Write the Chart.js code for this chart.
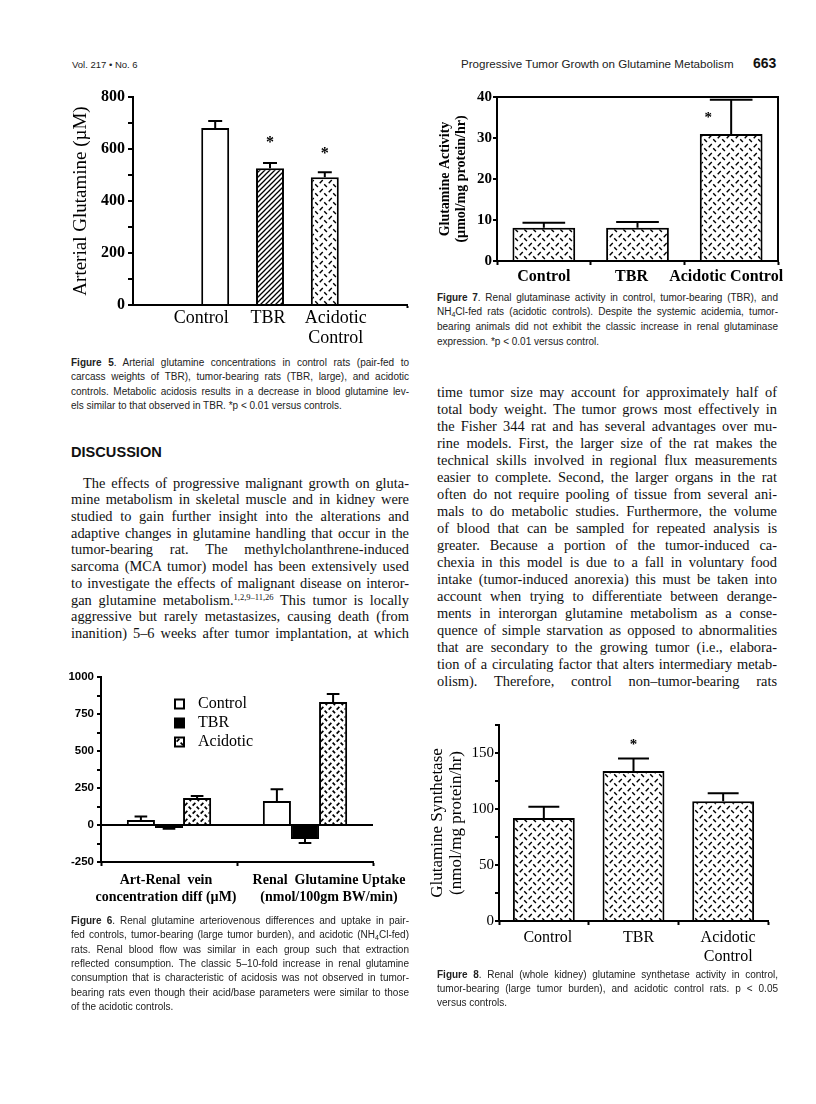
<!DOCTYPE html>
<html>
<head>
<meta charset="utf-8">
<script src="https://cdn.jsdelivr.net/npm/chart.js@4.4.0/dist/chart.umd.min.js"></script>
<style>
  html, body { margin:0; padding:0; background:#fff; }
  body { width:816px; height:1104px; position:relative; overflow:hidden; color:#111; }
  canvas { position:absolute; }
  .ln { position:absolute; white-space:nowrap; text-align:justify; overflow:visible; }
  .cap { font-family:"Liberation Sans", Arial, sans-serif; font-size:10px; color:#222; }
  .body { font-family:"Liberation Serif", "Times New Roman", serif; font-size:14.4px; color:#111; }
  .hdr { position:absolute; white-space:nowrap; font-family:"Liberation Sans", Arial, sans-serif; color:#222; }
  sup { font-size:8.5px; line-height:0; vertical-align:5px; }
  sub { font-size:7px; line-height:0; vertical-align:-2px; }
</style>
</head>
<body>
<div class="hdr" style="left:72px;top:59px;font-size:9.5px;">Vol. 217 &bull; No. 6</div>
<div class="hdr" style="left:461px;top:57px;font-size:11.6px;">Progressive Tumor Growth on Glutamine Metabolism</div>
<div class="hdr" style="left:753px;top:55px;font-size:14px;font-weight:bold;color:#111;">663</div>
<div class="hdr" style="left:71px;top:444px;font-size:14.6px;font-weight:bold;color:#111;">DISCUSSION</div>

<canvas id="fig5" width="380" height="270" style="left:40px;top:80px;"></canvas>
<canvas id="fig7" width="380" height="205" style="left:420px;top:80px;"></canvas>
<canvas id="fig6" width="380" height="265" style="left:40px;top:650px;"></canvas>
<canvas id="fig8" width="380" height="255" style="left:420px;top:715px;"></canvas>

<script>
// ---------------- DATA ----------------
// Figure 5: Arterial glutamine (µM)
const fig5Categories = ['', 'Control', 'TBR', ['Acidotic', 'Control'], ''];
const fig5Values = [null, 681, 526, 491, null];
const fig5Errors = [null, 27, 20, 20, null];
const fig5Stars  = [null, null, 635, 592, null];
const fig5YTicks = [0, 200, 400, 600, 800];

// Figure 7: Glutaminase activity (µmol/mg protein/hr)
const fig7Categories = ['Control', 'TBR', 'Acidotic Control'];
const fig7Values = [8.1, 8.1, 31.0];
const fig7Errors = [1.2, 1.4, 8.3];
const fig7Stars  = [null, null, 35.6];
const fig7YTicks = [0, 10, 20, 30, 40];

// Figure 6: Renal glutamine A-V difference and uptake
const fig6Categories = [['Art-Renal  vein', 'concentration diff (\u00b5M)'], ['Renal  Glutamine Uptake', '(nmol/100gm BW/min)']];
const fig6SeriesNames = ['Control', 'TBR', 'Acidotic'];
const fig6Control  = [34, 162];
const fig6ControlErr = [23, 80];
const fig6TBR      = [-20, -95];
const fig6TBRErr   = [5, 27];
const fig6Acidotic = [183, 831];
const fig6AcidoticErr = [13, 54];
const fig6YTicks = [-250, 0, 250, 500, 750, 1000];

// Figure 8: Glutamine synthetase (nmol/mg protein/hr)
const fig8Categories = ['Control', 'TBR', ['Acidotic', 'Control']];
const fig8Values = [92, 134, 107];
const fig8Errors = [10, 11, 7];
const fig8Stars  = [null, 160, null];
const fig8YTicks = [0, 50, 100, 150];

// ---------------- TEXT ----------------
const fig5Caption = [
  '<b>Figure 5</b>. Arterial glutamine concentrations in control rats (pair-fed to',
  'carcass weights of TBR), tumor-bearing rats (TBR, large), and acidotic',
  'controls. Metabolic acidosis results in a decrease in blood glutamine lev-',
  'els similar to that observed in TBR. *p &lt; 0.01 versus controls.'
];
const fig7Caption = [
  '<b>Figure 7</b>. Renal glutaminase activity in control, tumor-bearing (TBR), and',
  'NH<sub>4</sub>Cl-fed rats (acidotic controls). Despite the systemic acidemia, tumor-',
  'bearing animals did not exhibit the classic increase in renal glutaminase',
  'expression. *p &lt; 0.01 versus control.'
];
const fig6Caption = [
  '<b>Figure 6</b>. Renal glutamine arteriovenous differences and uptake in pair-',
  'fed controls, tumor-bearing (large tumor burden), and acidotic (NH<sub>4</sub>Cl-fed)',
  'rats. Renal blood flow was similar in each group such that extraction',
  'reflected consumption. The classic 5\u201310-fold increase in renal glutamine',
  'consumption that is characteristic of acidosis was not observed in tumor-',
  'bearing rats even though their acid/base parameters were similar to those',
  'of the acidotic controls.'
];
const fig8Caption = [
  '<b>Figure 8</b>. Renal (whole kidney) glutamine synthetase activity in control,',
  'tumor-bearing (large tumor burden), and acidotic control rats. p &lt; 0.05',
  'versus controls.'
];
const leftBody = [
  'The effects of progressive malignant growth on gluta-',
  'mine metabolism in skeletal muscle and in kidney were',
  'studied to gain further insight into the alterations and',
  'adaptive changes in glutamine handling that occur in the',
  'tumor-bearing rat. The methylcholanthrene-induced',
  'sarcoma (MCA tumor) model has been extensively used',
  'to investigate the effects of malignant disease on interor-',
  'gan glutamine metabolism.<sup>1,2,9\u201311,26</sup> This tumor is locally',
  'aggressive but rarely metastasizes, causing death (from',
  'inanition) 5\u20136 weeks after tumor implantation, at which'
];
const rightBody = [
  'time tumor size may account for approximately half of',
  'total body weight. The tumor grows most effectively in',
  'the Fisher 344 rat and has several advantages over mu-',
  'rine models. First, the larger size of the rat makes the',
  'technical skills involved in regional flux measurements',
  'easier to complete. Second, the larger organs in the rat',
  'often do not require pooling of tissue from several ani-',
  'mals to do metabolic studies. Furthermore, the volume',
  'of blood that can be sampled for repeated analysis is',
  'greater. Because a portion of the tumor-induced ca-',
  'chexia in this model is due to a fall in voluntary food',
  'intake (tumor-induced anorexia) this must be taken into',
  'account when trying to differentiate between derange-',
  'ments in interorgan glutamine metabolism as a conse-',
  'quence of simple starvation as opposed to abnormalities',
  'that are secondary to the growing tumor (i.e., elabora-',
  'tion of a circulating factor that alters intermediary metab-',
  'olism). Therefore, control non\u2013tumor-bearing rats'
];

function addLines(lines, o) {
  lines.forEach((html, i) => {
    const d = document.createElement('div');
    d.className = 'ln ' + o.cls;
    const ind = (i === 0 && o.indent) ? o.indent : 0;
    d.style.left = (o.x + ind) + 'px';
    d.style.width = (o.w - ind) + 'px';
    d.style.top = (o.y0 + i * o.dy - o.dy / 2) + 'px';
    d.style.height = o.dy + 'px';
    d.style.lineHeight = o.dy + 'px';
    const last = i === lines.length - 1;
    d.style.textAlignLast = (!last || o.justifyLast) ? 'justify' : 'left';
    d.innerHTML = html;
    document.body.appendChild(d);
  });
}
addLines(fig5Caption, {x:71, w:338, y0:363, dy:14.4, cls:'cap'});
addLines(fig7Caption, {x:437, w:341, y0:298, dy:14.8, cls:'cap'});
addLines(fig6Caption, {x:71, w:338, y0:921, dy:14.4, cls:'cap'});
addLines(fig8Caption, {x:437, w:341, y0:975, dy:14.2, cls:'cap'});
addLines(leftBody, {x:71, w:338, y0:483, dy:16.7, cls:'body', indent:12, justifyLast:true});
addLines(rightBody, {x:437, w:340, y0:392, dy:17.0, cls:'body', justifyLast:true});

// ---------------- STYLES ----------------
const SERIF = '"Liberation Serif", "Times New Roman", serif';
const SANS = '"Liberation Sans", Arial, sans-serif';
const BLACK = '#000';

function hatchPattern() {
  const s = 5;
  const c = document.createElement('canvas'); c.width = s; c.height = s;
  const g = c.getContext('2d');
  g.fillStyle = '#fff'; g.fillRect(0, 0, s, s);
  g.strokeStyle = '#000'; g.lineWidth = 1.3;
  g.beginPath();
  g.moveTo(-1, s + 1); g.lineTo(s + 1, -1);
  g.moveTo(-1, 1); g.lineTo(1, -1);
  g.moveTo(s - 1, s + 1); g.lineTo(s + 1, s - 1);
  g.stroke();
  return g.createPattern(c, 'repeat');
}
function dashPattern(s, lw) {
  const c = document.createElement('canvas'); c.width = s; c.height = s;
  const g = c.getContext('2d');
  g.fillStyle = '#fff'; g.fillRect(0, 0, s, s);
  g.strokeStyle = '#000'; g.lineWidth = lw; g.lineCap = 'butt';
  g.beginPath();
  g.moveTo(s * 0.08, s * 0.46); g.lineTo(s * 0.42, s * 0.12);
  g.moveTo(s * 0.58, s * 0.58); g.lineTo(s * 0.88, s * 0.88);
  g.stroke();
  return g.createPattern(c, 'repeat');
}
const HATCH = hatchPattern();
const DASH = dashPattern(9, 1.45);
const DASH6 = dashPattern(8, 1.7);

// ---------------- PLUGINS ----------------
const errorBars = {
  id: 'errorBars',
  afterDatasetsDraw(chart, args, o) {
    const ctx = chart.ctx, ys = chart.scales.y;
    chart.data.datasets.forEach((ds, di) => {
      if (!ds.errors) return;
      const meta = chart.getDatasetMeta(di);
      meta.data.forEach((bar, i) => {
        const v = ds.data[i], e = ds.errors[i];
        if (v == null || e == null) return;
        const end = v >= 0 ? v + e : v - e;
        const y0 = ys.getPixelForValue(v), y1 = ys.getPixelForValue(end);
        const half = bar.width * (o.capRatio || 0.5) / 2;
        ctx.save();
        ctx.strokeStyle = BLACK; ctx.lineWidth = o.lineWidth || 2;
        ctx.beginPath();
        ctx.moveTo(bar.x, y0); ctx.lineTo(bar.x, y1);
        ctx.moveTo(bar.x - half, y1); ctx.lineTo(bar.x + half, y1);
        ctx.stroke();
        ctx.restore();
      });
    });
  }
};
const stars = {
  id: 'stars',
  afterDatasetsDraw(chart, args, o) {
    const ctx = chart.ctx, ys = chart.scales.y;
    chart.data.datasets.forEach((ds, di) => {
      if (!ds.stars) return;
      const meta = chart.getDatasetMeta(di);
      meta.data.forEach((bar, i) => {
        const s = ds.stars[i];
        if (s == null) return;
        ctx.save();
        ctx.fillStyle = BLACK;
        ctx.font = o.font || ('bold 16px ' + SERIF);
        ctx.textAlign = 'center'; ctx.textBaseline = 'middle';
        ctx.fillText('*', bar.x + (o.dx || 0), ys.getPixelForValue(s) + 3);
        ctx.restore();
      });
    });
  }
};
const frameBox = {
  id: 'frameBox',
  afterDraw(chart, args, o) {
    if (!o || !o.show) return;
    const a = chart.chartArea, ctx = chart.ctx;
    ctx.save(); ctx.strokeStyle = BLACK; ctx.lineWidth = 2;
    ctx.beginPath();
    ctx.moveTo(a.left, a.top); ctx.lineTo(a.right, a.top); ctx.lineTo(a.right, a.bottom);
    ctx.stroke(); ctx.restore();
  }
};
const boxLegend = {
  id: 'boxLegend',
  afterDraw(chart, args, o) {
    if (!o || !o.show) return;
    const ctx = chart.ctx;
    chart.data.datasets.forEach((ds, i) => {
      const y = o.y + i * o.dy;
      ctx.save();
      ctx.fillStyle = ds.backgroundColor;
      ctx.fillRect(o.x, y - o.size / 2, o.size, o.size);
      ctx.strokeStyle = BLACK; ctx.lineWidth = 2;
      ctx.strokeRect(o.x, y - o.size / 2, o.size, o.size);
      ctx.fillStyle = BLACK; ctx.font = o.font;
      ctx.textAlign = 'left'; ctx.textBaseline = 'middle';
      ctx.fillText(ds.label, o.textX, y);
      ctx.restore();
    });
  }
};
// category labels anchored on the x scale's tick pixels, with a per-label nudge
const catLabels = {
  id: 'catLabels',
  afterDraw(chart, args, o) {
    if (!o || !o.show) return;
    const xs = chart.scales.x, ctx = chart.ctx;
    ctx.save();
    ctx.fillStyle = BLACK; ctx.font = o.font;
    ctx.textAlign = 'center'; ctx.textBaseline = 'middle';
    chart.data.labels.forEach((lab, i) => {
      const lines = Array.isArray(lab) ? lab : [lab];
      const x = xs.getPixelForTick(i) + (o.dx ? o.dx[i] : 0);
      lines.forEach((t, j) => ctx.fillText(t, x, xs.top + o.y + j * o.lh));
    });
    ctx.restore();
  }
};

function yAxis(o) {
  return {
    min: o.min, max: o.max,
    border: { display: true, color: BLACK, width: 2 },
    grid: {
      drawOnChartArea: !!o.zeroLine,
      color: o.zeroLine ? (c => (c.tick && c.tick.value === 0) ? BLACK : 'rgba(0,0,0,0)') : 'rgba(0,0,0,0)',
      lineWidth: 2,
      tickLength: o.tickLength, tickWidth: 2, tickColor: BLACK
    },
    ticks: {
      stepSize: o.step, color: BLACK, font: o.font, padding: o.pad,
      callback: v => o.labels.some(t => Math.abs(t - v) < 1e-9) ? String(v) : ''
    },
    title: o.title ? { display: true, text: o.title, color: BLACK, font: o.titleFont, padding: { top: o.titlePad, bottom: 0 } } : { display: false },
    afterFit: s => { s.width = o.width; }
  };
}
function xAxis(o) {
  return {
    type: 'category', offset: true,
    border: { display: true, color: BLACK, width: 2 },
    grid: {
      display: true, drawOnChartArea: false, offset: true,
      tickLength: o.tickLength, tickWidth: 2,
      tickColor: o.tickColor || BLACK
    },
    ticks: { display: o.showTicks !== false, color: BLACK, font: o.font, padding: o.pad, autoSkip: false, maxRotation: 0, minRotation: 0 },
    afterFit: s => { s.height = o.height; }
  };
}
const common = {
  responsive: false, animation: false, devicePixelRatio: 1,
  events: []
};

// ---------------- FIGURE 5 ----------------
new Chart(document.getElementById('fig5'), {
  type: 'bar',
  data: {
    labels: fig5Categories,
    datasets: [{
      data: fig5Values, errors: fig5Errors, stars: fig5Stars,
      backgroundColor: ['#fff', '#fff', HATCH, DASH, '#fff'],
      borderColor: BLACK, borderWidth: 2,
      barPercentage: 0.51, categoryPercentage: 1
    }]
  },
  options: Object.assign({}, common, {
    layout: { padding: { left: 0, right: 13, top: 17, bottom: 0 } },
    plugins: { legend: { display: false }, tooltip: { enabled: false },
      errorBars: { capRatio: 0.5 }, stars: { font: 'bold 16px ' + SERIF },
      catLabels: { show: true, font: '18px ' + SERIF, y: 13, lh: 20, dx: [0, -14, -2, 11, 0] } },
    scales: {
      x: xAxis({ showTicks: false, tickLength: 3, height: 45,
        tickColor: c => c.tick ? 'rgba(0,0,0,0)' : BLACK }),
      y: yAxis({ min: 0, max: 800, step: 100, labels: fig5YTicks,
        font: { family: SERIF, size: 16, weight: 'bold' }, pad: 3, tickLength: 5, width: 93,
        title: 'Arterial Glutamine (\u00b5M)', titleFont: { family: SERIF, size: 19, lineHeight: 1.2 }, titlePad: 30 })
    }
  }),
  plugins: [errorBars, stars, catLabels]
});

// ---------------- FIGURE 7 ----------------
new Chart(document.getElementById('fig7'), {
  type: 'bar',
  data: {
    labels: fig7Categories,
    datasets: [{
      data: fig7Values, errors: fig7Errors, stars: fig7Stars,
      backgroundColor: DASH, borderColor: BLACK, borderWidth: 2,
      barPercentage: 0.67, categoryPercentage: 1
    }]
  },
  options: Object.assign({}, common, {
    layout: { padding: { left: 0, right: 22, top: 17, bottom: 0 } },
    plugins: { legend: { display: false }, tooltip: { enabled: false },
      errorBars: { capRatio: 0.68 }, stars: { dx: -23, font: 'bold 15px ' + SERIF }, frameBox: { show: true },
      catLabels: { show: true, font: 'bold 16px ' + SERIF, y: 16, lh: 19, dx: [0, -6, -5] } },
    scales: {
      x: xAxis({ showTicks: false, tickLength: 4, height: 24 }),
      y: yAxis({ min: 0, max: 40, step: 5, labels: fig7YTicks,
        font: { family: SERIF, size: 15, weight: 'bold' }, pad: 1, tickLength: 4, width: 77,
        title: ['Glutamine Activity', '(\u00b5mol/mg protein/hr)'],
        titleFont: { family: SERIF, size: 14, weight: 'bold', lineHeight: 1.2 }, titlePad: 16.6 })
    }
  }),
  plugins: [errorBars, stars, frameBox, catLabels]
});

// ---------------- FIGURE 6 ----------------
new Chart(document.getElementById('fig6'), {
  type: 'bar',
  data: {
    labels: fig6Categories,
    datasets: [
      { label: fig6SeriesNames[0], data: fig6Control, errors: fig6ControlErr, backgroundColor: '#fff',
        borderColor: BLACK, borderWidth: 2, barPercentage: 1, categoryPercentage: 0.62 },
      { label: fig6SeriesNames[1], data: fig6TBR, errors: fig6TBRErr, backgroundColor: '#000',
        borderColor: BLACK, borderWidth: 2, barPercentage: 1, categoryPercentage: 0.62 },
      { label: fig6SeriesNames[2], data: fig6Acidotic, errors: fig6AcidoticErr, backgroundColor: DASH6,
        borderColor: BLACK, borderWidth: 2, barPercentage: 1, categoryPercentage: 0.62 }
    ]
  },
  options: Object.assign({}, common, {
    layout: { padding: { left: 0, right: 47, top: 27, bottom: 0 } },
    plugins: { legend: { display: false }, tooltip: { enabled: false },
      errorBars: { capRatio: 0.45 },
      boxLegend: { show: true, x: 135, y: 54, dy: 19, size: 9, textX: 158, font: '16px ' + SERIF },
      catLabels: { show: true, font: 'bold 14px ' + SERIF, y: 18, lh: 17, dx: [-3, 24] } },
    scales: {
      x: xAxis({ showTicks: false, tickLength: 4, height: 53 }),
      y: yAxis({ min: -250, max: 1000, step: 125, labels: fig6YTicks, zeroLine: true,
        font: { family: SANS, size: 11.5, weight: 'bold' }, pad: 3, tickLength: 4, width: 61 })
    }
  }),
  plugins: [errorBars, boxLegend, catLabels]
});

// ---------------- FIGURE 8 ----------------
new Chart(document.getElementById('fig8'), {
  type: 'bar',
  data: {
    labels: fig8Categories,
    datasets: [{
      data: fig8Values, errors: fig8Errors, stars: fig8Stars,
      backgroundColor: DASH, borderColor: BLACK, borderWidth: 2,
      barPercentage: 0.69, categoryPercentage: 1
    }]
  },
  options: Object.assign({}, common, {
    layout: { padding: { left: 0, right: 32, top: 10, bottom: 0 } },
    plugins: { legend: { display: false }, tooltip: { enabled: false },
      errorBars: { capRatio: 0.5 }, stars: { font: 'bold 15px ' + SERIF },
      catLabels: { show: true, font: '16px ' + SERIF, y: 17, lh: 19, dx: [4, 5, 5] } },
    scales: {
      x: xAxis({ showTicks: false, tickLength: 4, height: 49 }),
      y: yAxis({ min: 0, max: 175, step: 25, labels: fig8YTicks,
        font: { family: SERIF, size: 15 }, pad: 1, tickLength: 4, width: 79,
        title: ['Glutamine Synthetase', '(nmol/mg protein/hr)'],
        titleFont: { family: SERIF, size: 17, lineHeight: 1.1 }, titlePad: 8.6 })
    }
  }),
  plugins: [errorBars, stars, catLabels]
});
</script>
</body>
</html>
